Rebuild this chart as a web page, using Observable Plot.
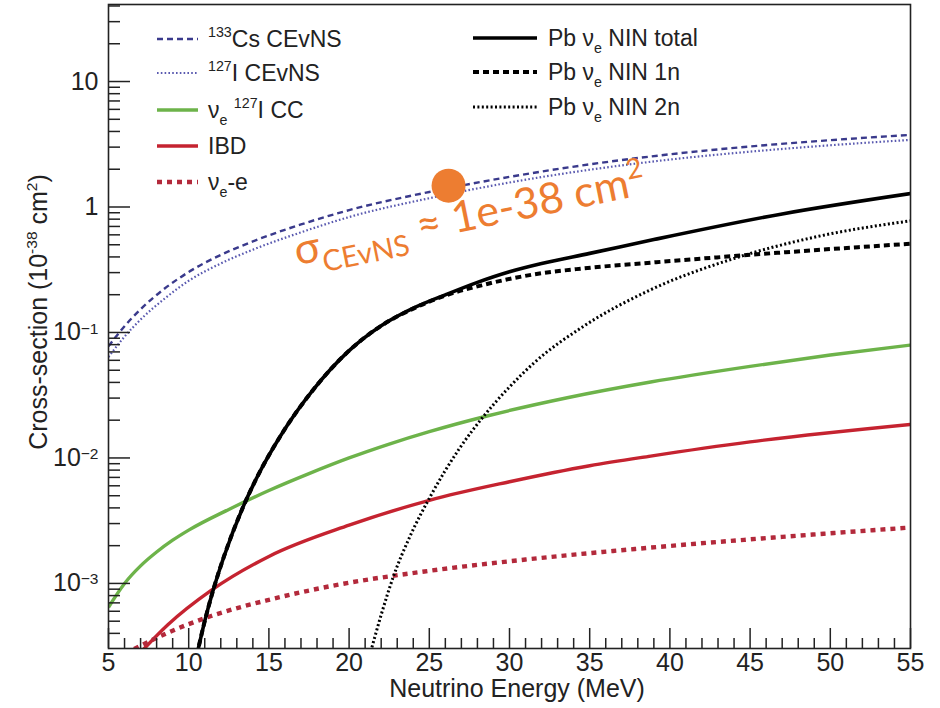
<!DOCTYPE html>
<html><head><meta charset="utf-8">
<script src="https://cdn.jsdelivr.net/npm/d3@7"></script>
<script src="https://cdn.jsdelivr.net/npm/@observablehq/plot@0.6"></script>
<style>
body{margin:0;background:#fff;}
#chart{position:relative;width:940px;height:708px;}
</style>
</head><body><div id="chart"></div>
<script>
// ---------- data (cross-section in 1e-38 cm^2 vs neutrino energy in MeV) ----------
const E_cs   = [5, 6, 7, 8.5, 10, 12, 14, 17, 20, 25, 30, 35, 40, 45, 50, 55];
const cs133  = [0.0776, 0.1122, 0.1531, 0.2239, 0.3034, 0.415, 0.532, 0.726, 0.944, 1.318, 1.738, 2.188, 2.630, 3.038, 3.408, 3.758];
const i127   = [0.0638, 0.0927, 0.1268, 0.1862, 0.2582, 0.3548, 0.4571, 0.6281, 0.8318, 1.175, 1.567, 1.982, 2.388, 2.761, 3.105, 3.428];

const E_cc   = [5, 6, 7, 8, 9, 10, 12.5, 15, 17.5, 20, 22.5, 25, 28.6, 33.6, 38.8, 45, 50, 55];
const ccI    = [6.46e-4, 1.0e-3, 1.38e-3, 1.78e-3, 2.21e-3, 2.66e-3, 3.89e-3, 5.5e-3, 7.5e-3, 0.0100, 0.0129, 0.0162, 0.0216, 0.0302, 0.0403, 0.0537, 0.0661, 0.0794];

const E_ibd  = [7.0, 8.7, 11.4, 15, 20, 25, 30, 35, 38.8, 45, 55];
const ibd    = [2.82e-4, 4.68e-4, 8.79e-4, 1.64e-3, 2.91e-3, 4.6e-3, 6.46e-3, 8.67e-3, 0.01035, 0.01343, 0.0185];

const E_ee   = [6.6, 8.7, 11.4, 15, 19, 25, 31, 38.8, 47, 55];
const nue_e  = [3.0e-4, 4.05e-4, 5.5e-4, 7.4e-4, 9.6e-4, 1.26e-3, 1.55e-3, 1.93e-3, 2.35e-3, 2.79e-3];

const E_tot  = [10.5, 11.0, 11.5, 12.2, 13.42, 14.3, 15.72, 17.78, 19.9, 22, 24, 26, 28, 30, 32, 35, 39, 47, 55];
const ninTot = [2.66e-4, 5.01e-4, 8.61e-4, 1.64e-3, 4.15e-3, 7.18e-3, 0.01496, 0.03516, 0.0697, 0.1130, 0.156, 0.1995, 0.251, 0.305, 0.355, 0.427, 0.550, 0.881, 1.28];

const E_1n   = [10.5, 11.0, 11.5, 12.2, 13.42, 14.3, 15.72, 17.78, 19.9, 22, 24, 26, 28.4, 31.5, 34.6, 38.8, 47, 55];
const nin1n  = [2.66e-4, 5.01e-4, 8.61e-4, 1.64e-3, 4.15e-3, 7.18e-3, 0.01496, 0.03516, 0.0697, 0.1130, 0.155, 0.197, 0.240, 0.29, 0.324, 0.36, 0.434, 0.51];

const E_2n   = [21.2, 21.4, 22.0, 22.77, 23.8, 25.07, 26.9, 28.4, 30, 31.5, 34.6, 38.8, 44, 49.2, 55];
const nin2n  = [2.45e-4, 3.02e-4, 5.62e-4, 1.143e-3, 2.38e-3, 4.95e-3, 0.0120, 0.0216, 0.0368, 0.0568, 0.1117, 0.219, 0.389, 0.582, 0.776];

// annotation
const annDotE = [26.2], annDotV = [1.48];
const annTextE = 16.8, annTextV = 0.34;

// ticks
const xLabelTicks = [5, 10, 15, 20, 25, 30, 35, 40, 45, 50, 55];
const xMinorTicks = d3.range(6, 55).filter(d => d % 5 !== 0);
const yLabelTicks = [1e-3, 1e-2, 1e-1, 1, 10];
const yMinorTicks = [];
for (let k = -4; k <= 1; k++) for (let m = 2; m <= 9; m++) yMinorTicks.push(+(m * Math.pow(10, k)).toPrecision(3));

// ---------- layout ----------
const W = 940, H = 708, mL = 108, mR = 30, mT = 4, mB = 60;
const yMin = 3.03e-4, yMax = 41.1;
const xMin = 5, xMax = 55;
const yMinorIn = yMinorTicks.filter(v => v > yMin && v < yMax);
const pxPerDec = (H - mT - mB) / Math.log10(yMax / yMin);
const pxPerMeV = (W - mL - mR) / (xMax - xMin);
const upPx = px => yMin * Math.pow(10, px / pxPerDec);
const rightPx = px => xMin + px / pxPerMeV;

const rows = (E, V) => E.map((e, i) => ({E: e, v: V[i]}));
const ORANGE = "#ED7D31";
const FONT = "'Liberation Sans', Arial, Helvetica, sans-serif";

const styles = {
  cs:  {stroke: "#3a3a8c", strokeWidth: 2.4, strokeDasharray: "6,4"},
  i:   {stroke: "#5a5ab0", strokeWidth: 2.2, strokeDasharray: "1.6,2.2"},
  cc:  {stroke: "#6db34a", strokeWidth: 3.4},
  ibd: {stroke: "#c52330", strokeWidth: 3.4},
  ee:  {stroke: "#b3293b", strokeWidth: 4.4, strokeDasharray: "5,5"},
  tot: {stroke: "#000", strokeWidth: 3.6},
  n1:  {stroke: "#000", strokeWidth: 4, strokeDasharray: "6,4"},
  n2:  {stroke: "#000", strokeWidth: 3, strokeDasharray: "2,2.4"}
};
// drawing order of the series
const seriesList = [
  {key: "i",   E: E_cs,  V: i127},
  {key: "cs",  E: E_cs,  V: cs133},
  {key: "cc",  E: E_cc,  V: ccI},
  {key: "ibd", E: E_ibd, V: ibd},
  {key: "ee",  E: E_ee,  V: nue_e},
  {key: "n2",  E: E_2n,  V: nin2n},
  {key: "n1",  E: E_1n,  V: nin1n},
  {key: "tot", E: E_tot, V: ninTot}
];

const plot = Plot.plot({
  width: W, height: H,
  marginLeft: mL, marginRight: mR, marginTop: mT, marginBottom: mB,
  x: {type: "linear", domain: [xMin, xMax]},
  y: {type: "log", domain: [yMin, yMax]},
  style: {fontFamily: FONT, color: "#222", background: "#fff"},
  marks: [
    Plot.axisX({ticks: xLabelTicks, tickSize: 0, tickPadding: 5, fontSize: 25, label: null, tickFormat: d => String(d)}),
    Plot.axisY({ticks: yLabelTicks, tickSize: 0, tickPadding: 10, fontSize: 25, label: null,
      tickFormat: d => d >= 1 ? String(d) : "10^" + Math.round(Math.log10(d))}),
    ...seriesList.map(s => Plot.line(rows(s.E, s.V), {x: "E", y: "v", curve: "monotone-x", clip: true, ...styles[s.key]})),
    // inward ticks
    Plot.ruleX(xLabelTicks, {x: d => d, y1: () => yMin, y2: () => upPx(20), stroke: "#222", strokeWidth: 1.5}),
    Plot.ruleX(xMinorTicks, {x: d => d, y1: () => yMin, y2: () => upPx(10), stroke: "#222", strokeWidth: 1.5}),
    Plot.ruleY(yLabelTicks, {y: d => d, x1: () => xMin, x2: () => rightPx(22), stroke: "#222", strokeWidth: 1.5}),
    Plot.ruleY(yMinorIn, {y: d => d, x1: () => xMin, x2: () => rightPx(12), stroke: "#222", strokeWidth: 1.5}),
    Plot.frame({stroke: "#222", strokeWidth: 1.6}),
    Plot.dot(rows(annDotE, annDotV), {x: "E", y: "v", r: 17, fill: ORANGE, stroke: "none"})
  ]
});
document.getElementById("chart").appendChild(plot);

const svg = d3.select(plot);

// make sure dash patterns reach the drawn paths (line marks are in seriesList order)
svg.selectAll('g[aria-label="line"]').each(function (_, idx) {
  const s = seriesList[idx];
  if (!s) return;
  const st = styles[s.key];
  d3.select(this).selectAll("path")
    .attr("stroke-dasharray", st.strokeDasharray || null)
    .attr("stroke-linecap", "butt");
});

// ---------- rich text helper ----------
function rich(sel, x, y, parts, size, fill, anchor) {
  const t = sel.append("text").attr("x", x).attr("y", y)
    .attr("font-size", size).attr("fill", fill || "#222")
    .attr("font-family", FONT).attr("text-anchor", anchor || "start");
  let cur = 0;
  parts.forEach(p => {
    const shift = p.sup ? -size * 0.42 : p.sub ? size * 0.3 : 0;
    const fs = (p.sup || p.sub) ? size * 0.62 : size;
    t.append("tspan").attr("dy", shift - cur).attr("font-size", fs).text(p.t);
    cur = shift;
  });
  return t;
}

// y tick labels with real superscripts
svg.selectAll('g[aria-label="y-axis tick label"] text').each(function () {
  const s = this.textContent;
  const m = /^10\^(-?\d+)$/.exec(s);
  if (!m) return;
  const el = d3.select(this);
  el.text("");
  el.append("tspan").text("10");
  el.append("tspan").attr("dy", "-0.45em").attr("font-size", "0.62em").text("\u2212" + m[1].replace("-", ""));
});

// axis titles
rich(svg, 517, 697, [{t: "Neutrino Energy (MeV)"}], 25, "#222", "middle");
const yt = svg.append("g").attr("transform", "translate(47,312) rotate(-90)");
rich(yt, 0, 0, [{t: "Cross-section (10"}, {sup: true, t: "-38"}, {t: " cm"}, {sup: true, t: "2"}, {t: ")"}], 25, "#222", "middle");

// legends
const legL = [
  {y: 39,  st: styles.cs,  parts: [{sup: true, t: "133"}, {t: "Cs CEvNS"}]},
  {y: 73,  st: styles.i,   parts: [{sup: true, t: "127"}, {t: "I CEvNS"}]},
  {y: 110, st: styles.cc,  parts: [{t: "\u03bd"}, {sub: true, t: "e"}, {t: " "}, {sup: true, t: "127"}, {t: "I CC"}]},
  {y: 146, st: styles.ibd, parts: [{t: "IBD"}]},
  {y: 182, st: styles.ee,  parts: [{t: "\u03bd"}, {sub: true, t: "e"}, {t: "-e"}]}
];
const legR = [
  {y: 38,  st: styles.tot, parts: [{t: "Pb \u03bd"}, {sub: true, t: "e"}, {t: " NIN total"}]},
  {y: 72,  st: styles.n1,  parts: [{t: "Pb \u03bd"}, {sub: true, t: "e"}, {t: " NIN 1n"}]},
  {y: 107, st: styles.n2,  parts: [{t: "Pb \u03bd"}, {sub: true, t: "e"}, {t: " NIN 2n"}]}
];
function drawLegend(items, x1, x2, tx) {
  const g = svg.append("g");
  items.forEach(it => {
    g.append("line").attr("x1", x1).attr("x2", x2).attr("y1", it.y).attr("y2", it.y)
      .attr("stroke", it.st.stroke).attr("stroke-width", it.st.strokeWidth)
      .attr("stroke-dasharray", it.st.strokeDasharray || null);
    rich(g, tx, it.y + 8, it.parts, 23, "#222");
  });
}
drawLegend(legL, 157, 198, 208);
drawLegend(legR, 473, 537, 548);

// annotation text, positioned through the plot's scales
const X = plot.scale("x"), Y = plot.scale("y");
const ax = X.apply(annTextE), ay = Y.apply(annTextV);
const ag = svg.append("g").attr("transform", `translate(${ax},${ay}) rotate(-11.5)`);
const at = ag.append("text").attr("x", 0).attr("y", 0).attr("fill", ORANGE).attr("text-anchor", "start")
  .attr("font-family", "Lato, 'Open Sans', sans-serif").attr("font-size", 43);
at.append("tspan").text("\u03c3");
at.append("tspan").attr("dy", 12).attr("font-size", 29).text("CEvNS");
at.append("tspan").attr("dy", -12).text(" \u2248 1e-38 cm");
at.append("tspan").attr("dy", -18).attr("font-size", 28).text("2");
</script>
</body></html>
